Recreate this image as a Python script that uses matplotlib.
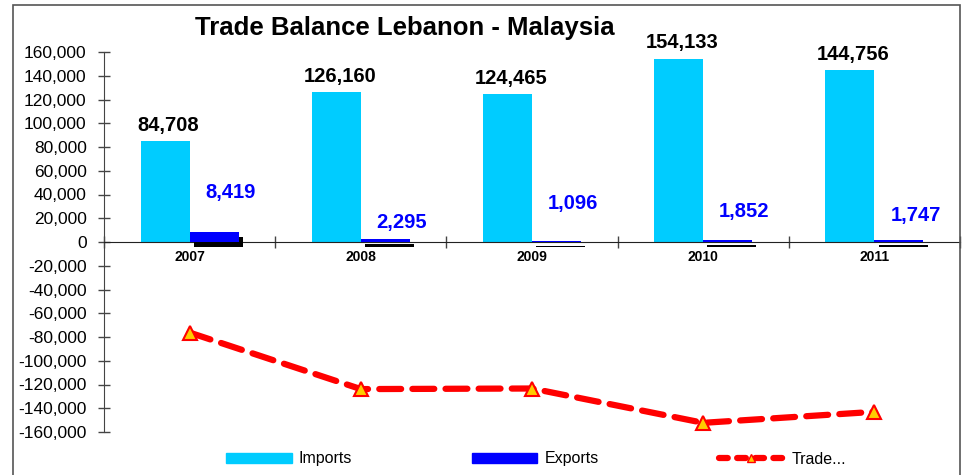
import matplotlib
matplotlib.use("Agg")
import matplotlib.pyplot as plt
import matplotlib.patheffects as pe
from matplotlib.patches import Rectangle
from matplotlib.lines import Line2D
import numpy as np

years = ["2007", "2008", "2009", "2010", "2011"]
imports = [84708, 126160, 124465, 154133, 144756]
exports = [8419, 2295, 1096, 1852, 1747]
balance = [e - i for e, i in zip(exports, imports)]
export_label_y = [42000, 16500, 32000, 26000, 22000]

plt.rcParams['font.family'] = ['Liberation Sans', 'DejaVu Sans']

fig = plt.figure(figsize=(9.64, 4.75), dpi=100)
# outer frame
fig.patches.append(Rectangle((13/964, -0.01), (960-13)/964, (475-5)/475 + 0.01,
                             transform=fig.transFigure, fill=False,
                             edgecolor='#555555', linewidth=1.2))

ax = fig.add_axes([104/964, 43/475, (960-104)/964, 380/475])
x = np.arange(len(years))
w = 0.286

ax.bar(x - w/2, imports, width=w, color='#00CCFF', zorder=2)
ax.bar(x + w/2, exports, width=w, color='#0000FF', zorder=3,
       path_effects=[pe.SimplePatchShadow(offset=(3, -3.6), shadow_rgbFace='black', alpha=1.0),
                     pe.Normal()])

ax.plot(x, balance, color='#FF0000', linewidth=4.5, linestyle=(0, (3.5, 1.8)),
        dash_capstyle='round', zorder=4,
        marker='^', markersize=10, markerfacecolor='#FFCC00', markeredgecolor='#FF0000',
        markeredgewidth=1.5)

for xi, v in zip(x, imports):
    ax.text(xi - w/2 + 0.02, v + 5500, f"{v:,}", ha='center', va='bottom',
            fontsize=14.5, fontweight='bold', color='black')
for xi, v, ly in zip(x, exports, export_label_y):
    ax.text(xi + 0.24, ly, f"{v:,}", ha='center', va='center',
            fontsize=14.5, fontweight='bold', color='#0000FF')

ax.set_xlim(-0.5, 4.5)
ax.set_ylim(-160000, 160000)
ax.set_yticks(np.arange(-160000, 160001, 20000))
ax.set_yticklabels([f"{v:,}" for v in np.arange(-160000, 160001, 20000)], fontsize=12.5)
ax.tick_params(axis='y', direction='inout', length=9, width=1, color='#444444', pad=8)

ax.set_xticks(np.arange(-0.5, 4.6, 1.0))
ax.set_xticklabels([])
ax.tick_params(axis='x', direction='inout', length=8, width=1, color='#444444')
for xi, yr in zip(x, years):
    ax.text(xi, -6500, yr, ha='center', va='top', fontsize=10, fontweight='bold')

for s in ['top', 'right']:
    ax.spines[s].set_visible(False)
ax.spines['bottom'].set_position(('data', 0))
ax.spines['left'].set_color('#444444')
ax.spines['bottom'].set_color('#222222')

fig.text(405/964, 1 - 28/475, "Trade Balance Lebanon - Malaysia", ha='center', va='center',
         fontsize=18.5, fontweight='bold')

handles = [Rectangle((0, 0), 1, 1, color='#00CCFF'),
           Rectangle((0, 0), 1, 1, color='#0000FF'),
           Line2D([0], [0], color='#FF0000', linewidth=4.5, linestyle=(0, (1.4, 1.5)),
                  dash_capstyle='round', marker='^', markersize=6,
                  markerfacecolor='#FFCC00', markeredgecolor='#FF0000')]
fig.legend(handles, ["Imports", "Exports", "Trade..."], loc='center',
           bbox_to_anchor=(536/964, 1 - 459/475), ncol=3, frameon=False,
           fontsize=11.5, handlelength=4.1, handleheight=0.55, columnspacing=7.5,
           handletextpad=0.45, borderpad=0.2)

fig.savefig("out.png", dpi=100)
